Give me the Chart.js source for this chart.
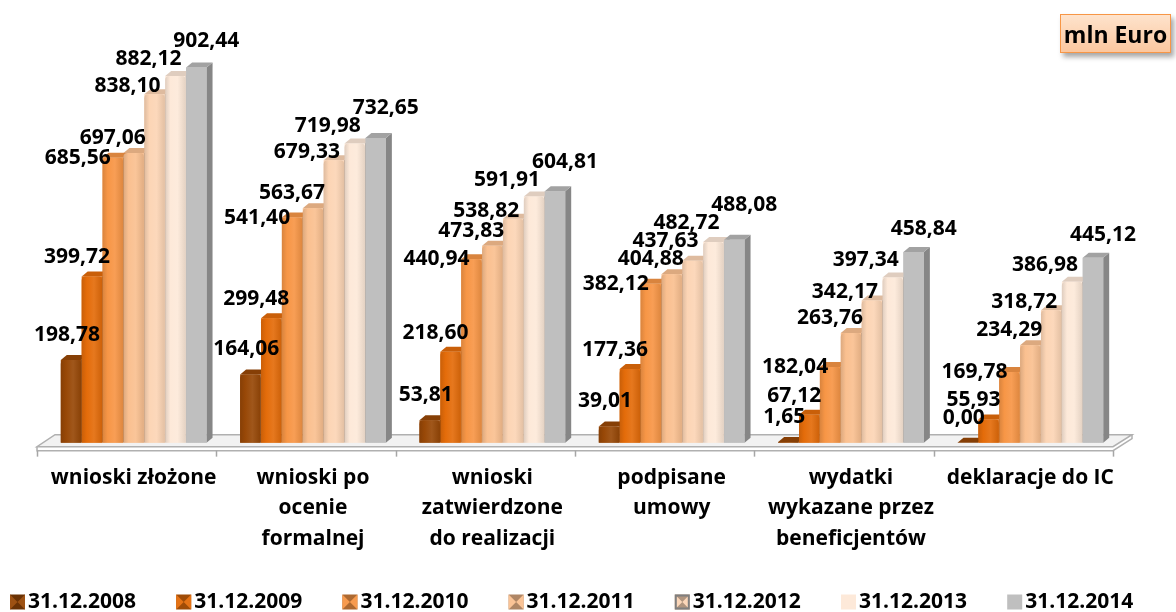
<!DOCTYPE html>
<html>
<head>
<meta charset="utf-8">
<script src="https://cdn.jsdelivr.net/npm/chart.js@4.4.1/dist/chart.umd.min.js"></script>
<style>
  html, body { margin: 0; background: #fff; }
  #wrap { position: relative; width: 1176px; height: 612px; }
  #unit {
    position: absolute; left: 1060px; top: 14px; width: 111px; height: 39px;
    box-sizing: border-box; border: 1.5px solid #f79646;
    background: linear-gradient(#fee3cc, #fbc79f);
    box-shadow: 3px 4px 5px rgba(0, 0, 0, 0.35);
    font: bold 23px "Open Sans", sans-serif; color: #000;
    display: flex; align-items: center; justify-content: center;
  }
</style>
</head>
<body>
<div id="wrap">
  <canvas id="chart" width="1176" height="612"></canvas>
  <div id="unit">mln Euro</div>
</div>
<script>
const categories = [
  ['wnioski złożone'],
  ['wnioski po', 'ocenie', 'formalnej'],
  ['wnioski', 'zatwierdzone', 'do realizacji'],
  ['podpisane', 'umowy'],
  ['wydatki', 'wykazane przez', 'beneficjentów'],
  ['deklaracje do IC'],
];
const seriesNames = ['31.12.2008', '31.12.2009', '31.12.2010', '31.12.2011', '31.12.2012', '31.12.2013', '31.12.2014'];
const v2008 = [198.78, 164.06, 53.81, 39.01, 1.65, 0.00];
const v2009 = [399.72, 299.48, 218.60, 177.36, 67.12, 55.93];
const v2010 = [685.56, 541.40, 440.94, 382.12, 182.04, 169.78];
const v2011 = [697.06, 563.67, 473.83, 404.88, 263.76, 234.29];
const v2012 = [838.10, 679.33, 538.82, 437.63, 342.17, 318.72];
const v2013 = [882.12, 719.98, 591.91, 482.72, 397.34, 386.98];
const v2014 = [902.44, 732.65, 604.81, 488.08, 458.84, 445.12];
const seriesValues = [v2008, v2009, v2010, v2011, v2012, v2013, v2014];

const colors = ['#984807', '#e46c0a', '#f79646', '#fac090', '#fcd5b5', '#fde9d9', '#bfbfbf'];

// mix a hex colour with black (f < 0) or white (f > 0)
function shade(hex, f) {
  const n = parseInt(hex.slice(1), 16);
  let r = n >> 16, g = (n >> 8) & 255, b = n & 255;
  const t = f < 0 ? 0 : 255, p = Math.abs(f);
  r = Math.round(r + (t - r) * p);
  g = Math.round(g + (t - g) * p);
  b = Math.round(b + (t - b) * p);
  return `rgb(${r},${g},${b})`;
}

const fmt = v => v.toFixed(2).replace('.', ',');
const FONT = '"Open Sans", sans-serif';

const bar3d = {
  id: 'bar3d',
  beforeDatasetsDraw(chart) {
    const { ctx, chartArea: a, scales: { x } } = chart;
    const b = a.bottom;
    ctx.save();
    // floor
    ctx.beginPath();
    ctx.moveTo(a.left - 7, b + 4);
    ctx.lineTo(a.right - 7, b + 4);
    ctx.lineTo(a.right + 12, b - 8);
    ctx.lineTo(a.left + 11, b - 8);
    ctx.closePath();
    ctx.fillStyle = '#f2f2f2';
    ctx.fill();
    ctx.strokeStyle = '#b0b0b0';
    ctx.lineWidth = 1.5;
    ctx.stroke();
    // front edge of the floor
    ctx.beginPath();
    ctx.moveTo(a.left - 7, b + 4);
    ctx.lineTo(a.left - 7, b + 8);
    ctx.lineTo(a.right - 7, b + 8);
    ctx.lineTo(a.right + 12, b - 4);
    ctx.lineTo(a.right + 12, b - 8);
    ctx.stroke();
    // category ticks
    const step = x.width / chart.data.labels.length;
    ctx.strokeStyle = '#a6a6a6';
    for (let i = 0; i <= chart.data.labels.length; i++) {
      const px = Math.round(x.left + i * step - 7) + 0.5;
      ctx.beginPath();
      ctx.moveTo(px, b + 8);
      ctx.lineTo(px, b + 14);
      ctx.stroke();
    }
    ctx.restore();
  },
  afterDatasetsDraw(chart, args, opts) {
    const { ctx } = chart;
    const dx = opts.depthX, dy = opts.depthY;
    const n = chart.data.labels.length;
    ctx.save();
    for (let i = 0; i < n; i++) {
      chart.data.datasets.forEach((ds, d) => {
        const el = chart.getDatasetMeta(d).data[i];
        const { x, y, base, width } = el.getProps(['x', 'y', 'base', 'width'], true);
        const l = x - width / 2, r = x + width / 2;
        const c = colors[d];
        // side
        ctx.beginPath();
        ctx.moveTo(r, y); ctx.lineTo(r + dx, y + dy); ctx.lineTo(r + dx, base + dy); ctx.lineTo(r, base);
        ctx.closePath();
        ctx.fillStyle = shade(c, -0.3);
        ctx.fill();
        // top
        ctx.beginPath();
        ctx.moveTo(l, y); ctx.lineTo(l + dx, y + dy); ctx.lineTo(r + dx, y + dy); ctx.lineTo(r, y);
        ctx.closePath();
        ctx.fillStyle = d === 6 ? shade(c, -0.15) : shade(c, -0.12);
        ctx.fill();
        // front
        if (base - y > 0.5) {
          const g = ctx.createLinearGradient(l, 0, r, 0);
          if (d === 6) {
            g.addColorStop(0, c); g.addColorStop(1, c);
          } else {
            g.addColorStop(0, shade(c, -0.12));
            g.addColorStop(0.25, c);
            g.addColorStop(0.6, shade(c, 0.08));
            g.addColorStop(1, shade(c, -0.1));
          }
          ctx.fillStyle = g;
          ctx.beginPath();
          if (d === 6) {
            ctx.rect(l, y, width, base - y);
          } else {
            const rad = Math.min(4, (base - y) / 2);
            ctx.moveTo(l, base);
            ctx.lineTo(l, y + rad);
            ctx.quadraticCurveTo(l, y, l + rad, y);
            ctx.lineTo(r - rad, y);
            ctx.quadraticCurveTo(r, y, r, y + rad);
            ctx.lineTo(r, base);
            ctx.closePath();
          }
          ctx.fill();
        }
      });
    }
    // value labels: preferred offset per series, pushed up when they would overlap
    ctx.font = `bold ${opts.labelSize}px ${FONT}`;
    ctx.fillStyle = '#000';
    ctx.textAlign = 'center';
    ctx.textBaseline = 'middle';
    const h = opts.labelBox;
    for (let i = 0; i < n; i++) {
      const placed = [];
      chart.data.datasets.forEach((ds, d) => {
        const [ox, oy] = opts.labelShift[d];
        const { x, y } = chart.getDatasetMeta(d).data[i].getProps(['x', 'y'], true);
        const txt = fmt(ds.data[i]);
        const w = ctx.measureText(txt).width;
        const lx = x + ox;
        let ly = y + oy;
        let moved = true;
        while (moved) {
          moved = false;
          for (const p of placed) {
            if (Math.abs(p.x - lx) < (p.w + w) / 2 + 1 && Math.abs(p.y - ly) < h) {
              ly = p.y - h;
              moved = true;
            }
          }
        }
        placed.push({ x: lx, y: ly, w });
        ctx.fillText(txt, lx, ly);
      });
    }
    ctx.restore();
  },
};

const legend3d = {
  id: 'legend3d',
  afterDraw(chart, args, opts) {
    const { ctx } = chart;
    ctx.save();
    ctx.font = `bold ${opts.size}px ${FONT}`;
    ctx.textBaseline = 'middle';
    ctx.textAlign = 'left';
    seriesNames.forEach((name, d) => {
      const mx = opts.left + d * opts.step, my = opts.y - 7.5, s = 15;
      const c = colors[d];
      if (d >= 5) {
        ctx.fillStyle = c;
        ctx.fillRect(mx, my, s, s);
      } else {
        ctx.fillStyle = shade(c, -0.3);
        ctx.fillRect(mx, my, s, s);
        ctx.fillStyle = shade(c, 0.05);
        ctx.beginPath();
        ctx.moveTo(mx, my); ctx.lineTo(mx + s / 2, my + s / 2); ctx.lineTo(mx, my + s); ctx.closePath();
        ctx.moveTo(mx + s, my); ctx.lineTo(mx + s / 2, my + s / 2); ctx.lineTo(mx + s, my + s); ctx.closePath();
        ctx.fill();
        if (d === 4) {
          ctx.strokeStyle = '#7f7f7f';
          ctx.lineWidth = 2;
          ctx.strokeRect(mx + 1, my + 1, s - 2, s - 2);
        }
      }
      ctx.fillStyle = '#000';
      ctx.fillText(name, mx + s + 3, opts.y);
    });
    ctx.restore();
  },
};

new Chart(document.getElementById('chart'), {
  type: 'bar',
  data: {
    labels: categories,
    datasets: seriesNames.map((name, d) => ({
      label: name,
      data: seriesValues[d],
      backgroundColor: colors[d],
      borderWidth: 0,
      categoryPercentage: 0.815,
      barPercentage: 0.98,
    })),
  },
  options: {
    responsive: false,
    animation: false,
    devicePixelRatio: 1,
    layout: { padding: { top: 27, left: 44, right: 56, bottom: 38 } },
    scales: {
      x: {
        grid: { display: false, drawTicks: false },
        border: { display: false },
        ticks: {
          padding: 20,
          maxRotation: 0,
          autoSkip: false,
          color: '#000',
          font: { family: FONT, size: 21, weight: 'bold', lineHeight: 1.45 },
        },
      },
      y: { display: false, min: 0, max: 1000 },
    },
    plugins: {
      legend: { display: false },
      tooltip: { enabled: false },
      bar3d: {
        depthX: 6,
        depthY: -5,
        labelSize: 21,
        labelBox: 18,
        labelShift: [[-4, -25], [-15, -19], [-35, 0], [-21, -15], [-27, -8], [-27, -17], [10, -23]],
      },
      legend3d: { left: 10, step: 166.2, y: 602, size: 21 },
    },
  },
  plugins: [bar3d, legend3d],
});
</script>
</body>
</html>
